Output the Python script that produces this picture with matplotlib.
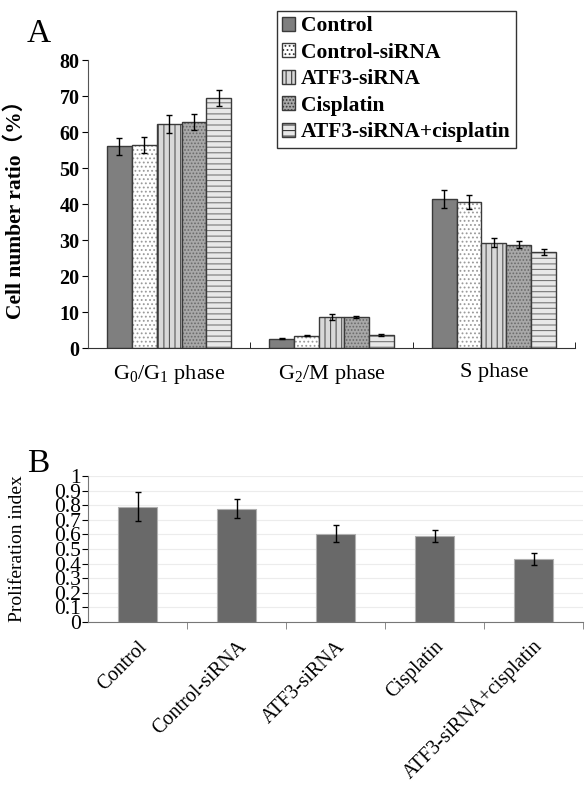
import numpy as np
import matplotlib
matplotlib.use("Agg")
import matplotlib.pyplot as plt
from matplotlib.patches import Patch

plt.rcParams['font.family'] = ['Liberation Serif', 'Noto Sans CJK SC']
plt.rcParams['mathtext.fontset'] = 'custom'
plt.rcParams['mathtext.rm'] = 'Liberation Serif'
plt.rcParams['mathtext.it'] = 'Liberation Serif:italic'
plt.rcParams['hatch.linewidth'] = 0.8

# panel A data
phases = [r'G$_0$/G$_1$ phase', r'G$_2$/M phase', 'S phase']
groups = ['Control', 'Control-siRNA', 'ATF3-siRNA', 'Cisplatin', 'ATF3-siRNA+cisplatin']
ratio = {
    'Control':              [56.0, 2.6, 41.5],
    'Control-siRNA':        [56.3, 3.4, 40.5],
    'ATF3-siRNA':           [62.3, 8.6, 29.3],
    'Cisplatin':            [62.7, 8.6, 28.7],
    'ATF3-siRNA+cisplatin': [69.4, 3.6, 26.7],
}
ratio_err = {
    'Control':              [2.3, 0.2, 2.5],
    'Control-siRNA':        [2.2, 0.2, 2.0],
    'ATF3-siRNA':           [2.5, 0.8, 1.2],
    'Cisplatin':            [2.2, 0.4, 0.9],
    'ATF3-siRNA+cisplatin': [2.2, 0.4, 0.9],
}

# panel B data
prolif = [0.79, 0.777, 0.605, 0.59, 0.433]
prolif_err = [0.10, 0.065, 0.058, 0.04, 0.04]

# styles: (facecolor, hatch, hatch colour)
styles = {
    'Control':              ('#7f7f7f', None, '#7f7f7f'),
    'Control-siRNA':        ('white', '....', '#9a9a9a'),
    'ATF3-siRNA':           ('#d8d8d8', '|||', '#555555'),
    'Cisplatin':            ('#a8a8a8', '.....', '#6a6a6a'),
    'ATF3-siRNA+cisplatin': ('#e8e8e8', '---', '#777777'),
}

fig = plt.figure(figsize=(5.85, 7.86), dpi=100)

# ---------------- panel A ----------------
axA = fig.add_axes([88/585, 1-348/786, 487/585, 288/786])
x = np.arange(len(phases))
w = 0.153
for i, g in enumerate(groups):
    fc, hatch, hc = styles[g]
    pos = x - 2*w + i*w
    axA.bar(pos, ratio[g], w, color=fc, hatch=hatch, edgecolor=hc, linewidth=0)
    axA.bar(pos, ratio[g], w, fill=False, edgecolor='#3a3a3a', linewidth=1.0)
    axA.errorbar(pos, ratio[g], yerr=ratio_err[g], fmt='none', ecolor='black',
                 elinewidth=1, capsize=2, capthick=1)

handles = []
for g in groups:
    fc, hatch, hc = styles[g]
    handles.append(Patch(facecolor=fc, hatch=hatch, edgecolor='#3a3a3a', linewidth=1, label=g))
leg = axA.legend(handles=handles, loc='upper left', bbox_to_anchor=(0.388, 1.17),
                 borderaxespad=0, frameon=True, fancybox=False, edgecolor='black',
                 prop={'size': 15.5, 'weight': 'bold'}, handlelength=0.6, handleheight=0.6,
                 handletextpad=0.25, labelspacing=0.3, borderpad=0.25)
leg.get_frame().set_linewidth(1.0)

axA.set_xlim(-0.5, 2.5)
axA.set_ylim(0, 80)
axA.set_yticks(np.arange(0, 81, 10))
axA.tick_params(axis='y', labelsize=14.5, direction='out', length=4, pad=2)
for t in axA.get_yticklabels():
    t.set_fontweight('bold')
axA.set_xticks(x)
axA.set_xticklabels(phases, fontsize=16)
axA.tick_params(axis='x', length=0, pad=11)
axA.set_xticks([0.5, 1.5, 2.5], minor=True)
axA.tick_params(axis='x', which='minor', direction='in', length=4)
for s in ['top', 'right']:
    axA.spines[s].set_visible(False)
axA.spines['left'].set_color('#555555')
axA.spines['bottom'].set_color('#333333')
axA.set_ylabel('Cell number ratio（%）', fontsize=15.5, fontweight='bold')
axA.yaxis.set_label_coords(-0.127, 0.5)

fig.text(27/585, 1-42/786, 'A', fontsize=24)

# ---------------- panel B ----------------
axB = fig.add_axes([88/585, 1-622/786, 495/585, 146/786])
xb = np.arange(len(groups))
axB.bar(xb, prolif, 0.4, color='#696969', edgecolor='#b0b0b0', linewidth=0.8, zorder=2)
axB.errorbar(xb, prolif, yerr=prolif_err, fmt='none', ecolor='black',
             elinewidth=1, capsize=2, capthick=1, zorder=3)
axB.set_xlim(-0.5, 4.5)
axB.set_ylim(0, 1)
yt = np.round(np.arange(0, 1.01, 0.1), 1)
axB.set_yticks(yt)
axB.set_yticklabels(['0'] + [f'{v:.1f}' for v in yt[1:-1]] + ['1'])
axB.tick_params(axis='y', labelsize=15.5, direction='out', length=4, pad=1)
axB.yaxis.grid(True, color='#ececec', linewidth=0.8, zorder=0)
axB.set_axisbelow(True)
axB.set_xticks(xb)
axB.set_xticklabels(groups, fontsize=14.5, rotation=45, ha='right', rotation_mode='anchor')
axB.tick_params(axis='x', length=0, pad=11)
axB.set_xticks(np.arange(0.5, 5, 1.0), minor=True)
axB.tick_params(axis='x', which='minor', direction='out', length=5, color='#777777')
for s in ['top', 'right']:
    axB.spines[s].set_visible(False)
axB.spines['left'].set_color('#777777')
axB.spines['bottom'].set_color('#777777')
axB.set_ylabel('Proliferation index', fontsize=14)
axB.yaxis.set_label_coords(-0.125, 0.5)

fig.text(27/585, 1-472/786, 'B', fontsize=24)

fig.savefig('out.png', dpi=100)
